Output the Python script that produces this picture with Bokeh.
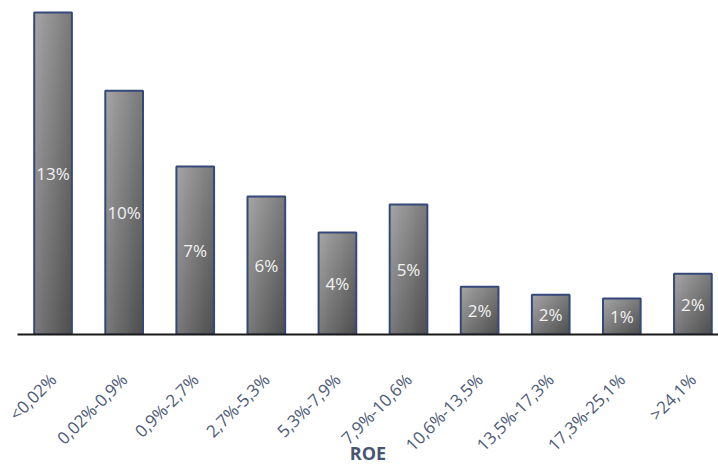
import math
import numpy as np
from bokeh.plotting import figure
from bokeh.models import Range1d, FixedTicker
from bokeh.core.properties import value
from bokeh.embed import file_html
from bokeh.resources import INLINE

# ROE buckets and share of companies in each bucket (%)
categories = ["<0,02%", "0,02%-0,9%", "0,9%-2,7%", "2,7%-5,3%", "5,3%-7,9%",
              "7,9%-10,6%", "10,6%-13,5%", "13,5%-17,3%", "17,3%-25,1%", ">24,1%"]
shares = [13.0, 9.84, 6.78, 5.57, 4.12, 5.25, 1.93, 1.60, 1.45, 2.45]
labels = [f"{round(s)}%" for s in shares]
axis_title = "ROE"

BAR_W = 0.53
LIGHT, DARK = 166, 78
Y_MAX = 13.48

p = figure(width=718, height=468, output_backend="svg", toolbar_location=None,
           x_range=Range1d(-0.5, 9.36), y_range=Range1d(0, Y_MAX),
           y_axis_location=None,
           min_border_left=17, min_border_right=0, min_border_top=0,
           min_border_bottom=134)
p.outline_line_color = None
p.xgrid.visible = False
p.ygrid.visible = False
p.background_fill_color = "white"
p.border_fill_color = "white"


def gradient_image(rows=160, cols=40):
    # diagonal shading: light at top-left, dark at bottom-right
    u = np.linspace(0.0, 1.0, cols)[None, :]
    depth = np.linspace(1.0, 0.0, rows)[:, None]  # row 0 is drawn at the bottom
    t = (u + depth) / 2.0
    g = (LIGHT + (DARK - LIGHT) * t).astype(np.uint8)
    img = np.empty((rows, cols), dtype=np.uint32)
    view = img.view(dtype=np.uint8).reshape((rows, cols, 4))
    view[..., 0] = g
    view[..., 1] = g
    view[..., 2] = g
    view[..., 3] = 255
    return img


xs = list(range(len(categories)))
p.image_rgba(image=[gradient_image() for _ in xs],
             x=[x - BAR_W / 2 for x in xs], y=[0] * len(xs),
             dw=[BAR_W] * len(xs), dh=shares)

p.vbar(x=xs, top=shares, width=BAR_W, fill_color=None,
       line_color="#34497a", line_width=2)

p.text(x=xs, y=[s / 2 for s in shares], text=labels,
       text_align="center", text_baseline="middle",
       text_color="#f2f2f2", text_font=value("Open Sans"),
       text_font_size="17px")

ax = p.xaxis[0]
ax.ticker = FixedTicker(ticks=xs)
ax.major_label_overrides = {x: c for x, c in zip(xs, categories)}
ax.major_label_orientation = math.pi / 4
ax.major_label_text_font = "Open Sans"
ax.major_label_text_font_size = "17px"
ax.major_label_text_color = "#4d5b78"
ax.major_label_standoff = 36
ax.major_tick_line_color = None
ax.minor_tick_line_color = None
ax.axis_line_color = "#1a1a1a"
ax.axis_line_width = 2
ax.axis_label = axis_title
ax.axis_label_text_font = "Open Sans"
ax.axis_label_text_font_style = "bold"
ax.axis_label_text_font_size = "18px"
ax.axis_label_text_color = "#4a5570"
ax.axis_label_standoff = -26

open("out.html", "w").write(file_html(p, INLINE))
